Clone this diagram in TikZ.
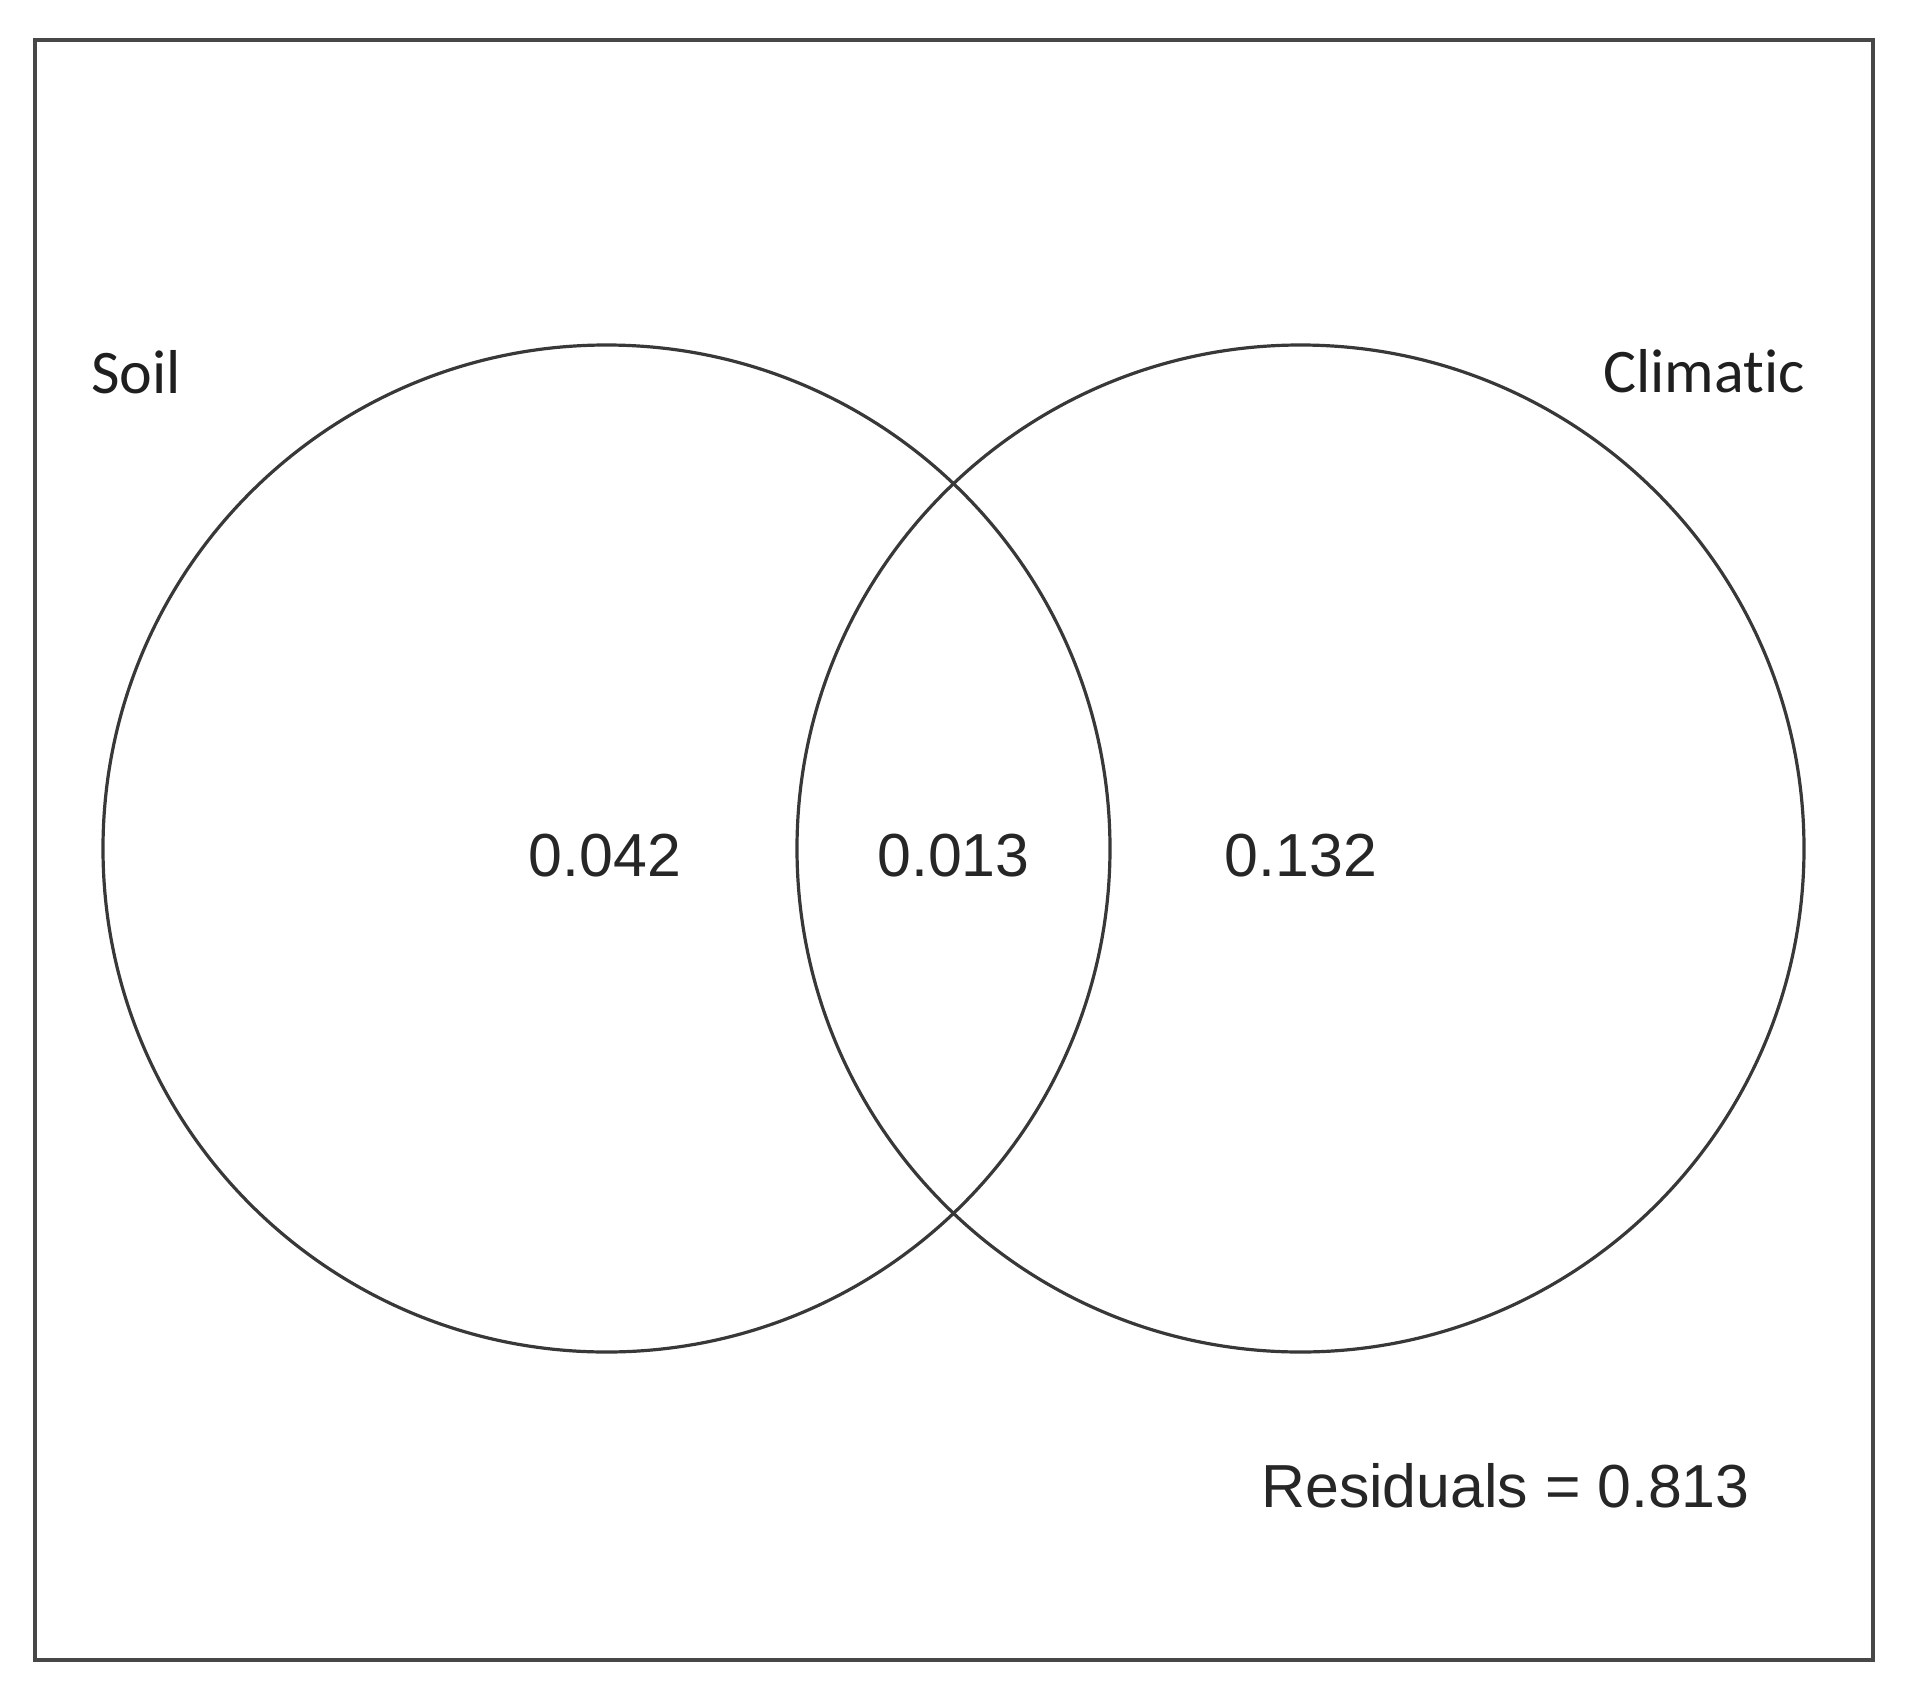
\documentclass[tikz,border=0pt]{standalone}
\usepackage{fontspec}
\setmainfont{Liberation Sans}
\newfontfamily\calfont[Ligatures=NoCommon]{Carlito}
\begin{document}
\begin{tikzpicture}[x=0.5pt,y=-0.5pt,
  setcircle/.style={draw=black!78,line width=1.6pt,circle,minimum size=503.5pt,inner sep=0pt},
  settitle/.style={anchor=base,inner sep=0pt,text=black!88,font=\calfont\fontsize{31pt}{36pt}\selectfont},
  setvalue/.style={anchor=base,inner sep=0pt,text=black!85,font=\fontsize{30.4pt}{36pt}\selectfont}]
\useasboundingbox (0,0) rectangle (1908,1708);
\draw[draw=black!72,line width=2pt] (35,40) rectangle (1873,1660);
\node[setcircle] (soilc) at (606.5,848.5) {};
\node[setcircle] (climc) at (1300.5,848.5) {};
\node[settitle] (soil) at (136,393) {Soil};
\node[settitle] (clim) at (1704,392) {Climatic};
\node[setvalue] (v1) at (605,876) {0.042};
\node[setvalue] (v2) at (953.5,876) {0.013};
\node[setvalue] (v3) at (1301,876) {0.132};
\node[setvalue] (res) at (1505.5,1507) {Residuals = 0.813};
\end{tikzpicture}
\end{document}
